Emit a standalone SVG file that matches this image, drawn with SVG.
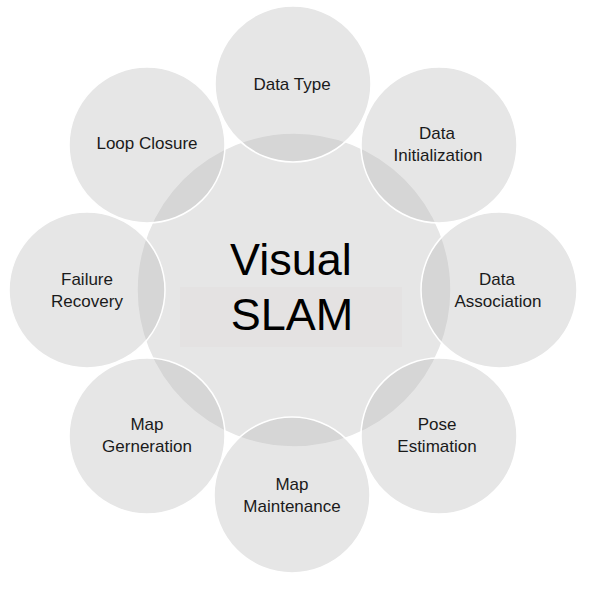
<svg xmlns="http://www.w3.org/2000/svg" width="596" height="590" viewBox="0 0 596 590">
<style>
.c{fill:#bababa;fill-opacity:0.36;stroke:#ffffff;stroke-width:1.5}
.t{font-family:"Liberation Sans",Arial,sans-serif;font-size:17px;fill:#1a1a1a;text-anchor:middle}
.big{font-family:"Liberation Sans",Arial,sans-serif;font-size:45px;fill:#000000;text-anchor:middle}
</style>
<rect width="596" height="590" fill="#ffffff"/>
<g id="center">
<circle class="c" cx="294" cy="290" r="157" stroke="none"/>
<rect x="180" y="287" width="222" height="60" fill="#e4e2e2"/>
<text class="big" x="291" y="275">Visual</text>
<text class="big" x="292" y="330">SLAM</text>
</g>
<g id="connectors"></g>
<g id="data-type">
<circle class="c" cx="293" cy="84" r="78"/>
<text class="t" x="292" y="90">Data Type</text>
</g>
<g id="data-initialization">
<circle class="c" cx="439" cy="145" r="78"/>
<text class="t" x="437" y="139">Data</text>
<text class="t" x="438" y="161">Initialization</text>
</g>
<g id="data-association">
<circle class="c" cx="499" cy="290" r="78"/>
<text class="t" x="497" y="285">Data</text>
<text class="t" x="498" y="307">Association</text>
</g>
<g id="pose-estimation">
<circle class="c" cx="439" cy="436" r="78"/>
<text class="t" x="437" y="430">Pose</text>
<text class="t" x="437" y="452">Estimation</text>
</g>
<g id="map-maintenance">
<circle class="c" cx="292" cy="495" r="78"/>
<text class="t" x="292" y="490">Map</text>
<text class="t" x="292" y="512">Maintenance</text>
</g>
<g id="map-generation">
<circle class="c" cx="147" cy="436" r="78"/>
<text class="t" x="147" y="430">Map</text>
<text class="t" x="147" y="452">Gerneration</text>
</g>
<g id="failure-recovery">
<circle class="c" cx="87" cy="290" r="78"/>
<text class="t" x="87" y="285">Failure</text>
<text class="t" x="87" y="307">Recovery</text>
</g>
<g id="loop-closure">
<circle class="c" cx="147" cy="145" r="78"/>
<text class="t" x="147" y="149">Loop Closure</text>
</g>
</svg>
